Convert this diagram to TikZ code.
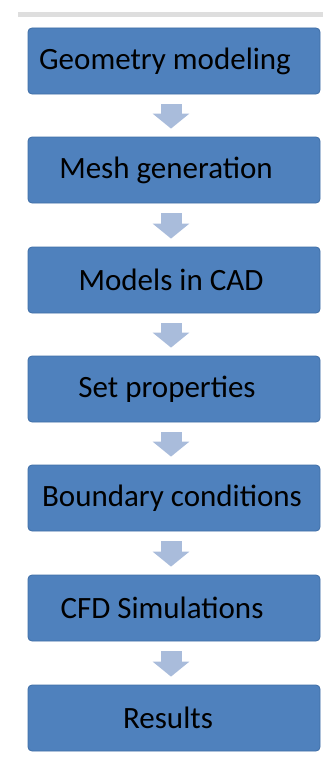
\documentclass[tikz,border=0pt]{standalone}
\usepackage{fontspec}
\setmainfont{Carlito}
\usetikzlibrary{arrows.meta}
\definecolor{boxblue}{HTML}{4F81BD}
\definecolor{boxedge}{HTML}{3F6EA6}
\definecolor{arrowblue}{HTML}{A9BCDB}
\definecolor{rulegray}{HTML}{DEDEDE}
\begin{document}
\begin{tikzpicture}[x=1pt,y=1pt,
  stepbox/.style={draw=boxedge, line width=0.8pt, fill=boxblue, rounded corners=4pt,
    minimum width=292pt, minimum height=66pt, inner sep=0pt,
    font=\fontsize{31}{36}\selectfont, text=black},
  flowarrow/.style={draw=arrowblue, line width=21pt,
    -{Triangle[width=36pt,length=15pt,fill=arrowblue]}}]
\useasboundingbox (0,0) rectangle (323,-760);
% thin rule across the top
\fill[rulegray] (18,-12) rectangle (323,-17);
% process steps
\node[stepbox] (s1) at (174,-61)  {\hspace*{-18pt}Geometry modeling};
\node[stepbox] (s2) at (174,-170) {\hspace*{-16pt}Mesh generation};
\node[stepbox] (s3) at (174,-280) {\hspace*{-6pt}Models in CAD};
\node[stepbox] (s4) at (174,-389) {\hspace*{-14pt}Set properties};
\node[stepbox] (s5) at (174,-498) {\hspace*{-4pt}Boundary conditions};
\node[stepbox] (s6) at (174,-608) {\hspace*{-24pt}CFD Simulations};
\node[stepbox] (s7) at (174,-718) {\hspace*{-12pt}Results};
% arrows between steps
\foreach \a/\b in {s1/s2,s2/s3,s3/s4,s4/s5,s5/s6,s6/s7}
  \draw[flowarrow] ([xshift=-3pt,yshift=-10pt]\a.south) -- ([xshift=-3pt,yshift=8pt]\b.north);
\end{tikzpicture}
\end{document}
